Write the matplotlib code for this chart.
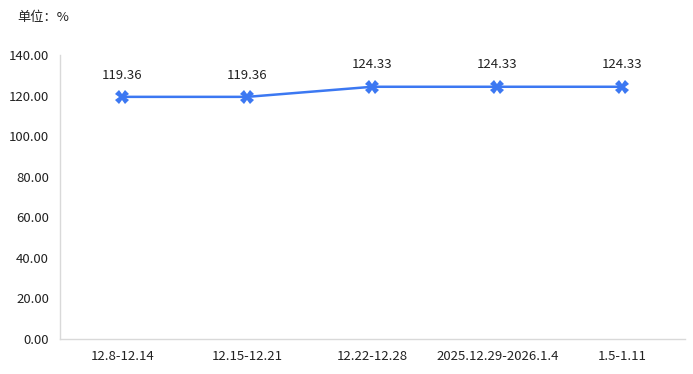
import numpy as np
import matplotlib.pyplot as plt

plt.rcParams['font.family'] = ['Noto Sans CJK SC', 'DejaVu Sans']

# data
categories = ['12.8-12.14', '12.15-12.21', '12.22-12.28', '2025.12.29-2026.1.4', '1.5-1.11']
values = [119.36, 119.36, 124.33, 124.33, 124.33]
yticks = [0, 20, 40, 60, 80, 100, 120, 140]

fig = plt.figure(figsize=(6.93, 3.74), dpi=100)
ax = fig.add_axes([0.0866, 0.0936, 0.9014, 0.7594])

x = np.arange(len(categories))
ax.plot(x, values, color='#3c78f2', linewidth=1.8, marker='X', markersize=10,
        markeredgewidth=0, zorder=3)
for xi, v in zip(x, values):
    ax.annotate('%.2f' % v, (xi, v), xytext=(0, 11), textcoords='offset points',
                ha='center', va='bottom', fontsize=9.5, color='#222222')

ax.set_xlim(-0.5, len(categories) - 0.5)
ax.set_ylim(0, 140)
ax.set_xticks(x)
ax.set_xticklabels(categories, fontsize=9.5, color='#222222')
ax.set_yticks(yticks)
ax.set_yticklabels(['%.2f' % t for t in yticks], fontsize=9.5, color='#222222')
ax.tick_params(length=0, pad=8)

for s in ['top', 'right']:
    ax.spines[s].set_visible(False)
for s in ['left', 'bottom']:
    ax.spines[s].set_color('#d9d9d9')
    ax.spines[s].set_linewidth(1)

fig.text(17 / 693, 1 - 18 / 374, '单位：%', fontsize=9.5, color='#222222', va='center')

fig.savefig('out.png', dpi=100)
